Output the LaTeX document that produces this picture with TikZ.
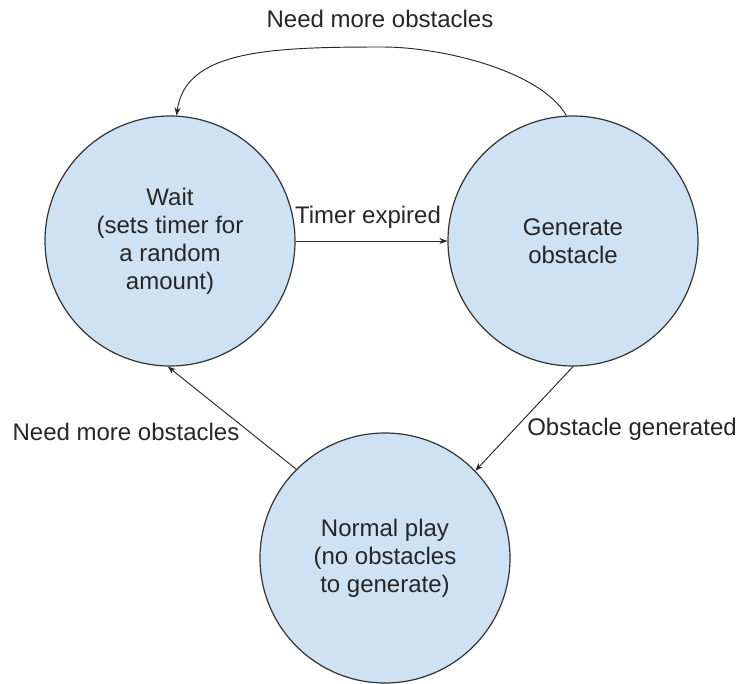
\documentclass[tikz,border=0pt]{standalone}
\usepackage{fontspec}
\setmainfont{Liberation Sans}
\usetikzlibrary{arrows.meta}
\definecolor{statefill}{HTML}{CFE2F3}
\definecolor{stateline}{HTML}{333333}
\tikzset{
  state/.style={circle, draw=stateline, line width=0.9pt, fill=statefill,
    minimum size=187.5pt, inner sep=0pt, align=center,
    font=\fontsize{18}{21}\selectfont, text=black!85},
  lbl/.style={anchor=base, inner sep=0pt, font=\fontsize{18}{21}\selectfont, text=black!85},
  arr/.style={draw=black!85, line width=0.7pt, -{Stealth[length=6pt,width=4.5pt]}}
}
\begin{document}
\begin{tikzpicture}[x=0.75pt,y=-0.75pt]
\useasboundingbox (0,0) rectangle (740,683);
\node[state] (wait) at (170,241) {Wait\\(sets timer for\\a random\\amount)};
\node[state] (gen) at (573,241) {Generate\\obstacle};
\node[state] (normal) at (385,558) {Normal play\\(no obstacles\\to generate)};
\coordinate (topmid) at (383,47);

\draw[arr] (wait) -- (gen);
\draw[arr] (gen.93) .. controls (540,70) and (440,47) .. (topmid)
  .. controls (270,47) and (185,50) .. (wait.87);
\draw[arr] (gen.270) -- (normal.44);
\draw[arr] (normal.135) -- (wait.269);

\node[lbl] (ltimer) at (368,223) {Timer expired};
\node[lbl] (ltop) at (380,27) {Need more obstacles};
\node[lbl] (lleft) at (126,440) {Need more obstacles};
\node[lbl] (lright) at (632,435) {Obstacle generated};
\end{tikzpicture}
\end{document}
